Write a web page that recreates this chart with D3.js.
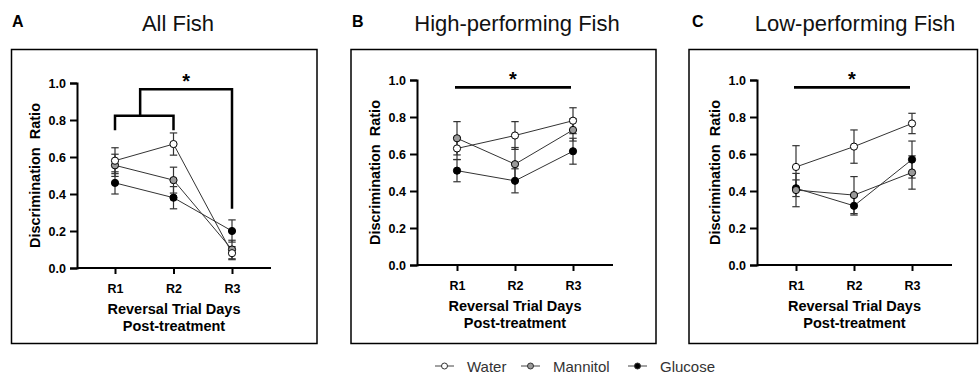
<!DOCTYPE html>
<html>
<head>
<meta charset="utf-8">
<script src="https://cdn.jsdelivr.net/npm/d3@7"></script>
<style>
body { margin: 0; background: #fff; }
svg { display: block; font-family: Arial, "Liberation Sans", sans-serif; }
</style>
</head>
<body>
<div id="chart"></div>
<script>
// categories and ticks
var days = ["R1", "R2", "R3"];
var groups = ["Water", "Mannitol", "Glucose"];
var yTicks = [0, 0.2, 0.4, 0.6, 0.8, 1.0];

// A - All fish (mean, sem)
var allWater = [0.58, 0.67, 0.08];
var allWaterSem = [0.07, 0.06, 0.035];
var allMannitol = [0.555, 0.475, 0.10];
var allMannitolSem = [0.06, 0.07, 0.05];
var allGlucose = [0.46, 0.38, 0.20];
var allGlucoseSem = [0.06, 0.06, 0.06];

// B - High-performing fish
var highWater = [0.63, 0.70, 0.78];
var highWaterSem = [0.06, 0.075, 0.07];
var highMannitol = [0.685, 0.545, 0.73];
var highMannitolSem = [0.09, 0.09, 0.06];
var highGlucose = [0.51, 0.455, 0.615];
var highGlucoseSem = [0.06, 0.065, 0.07];

// C - Low-performing fish
var lowWater = [0.53, 0.64, 0.765];
var lowWaterSem = [0.115, 0.09, 0.055];
var lowMannitol = [0.405, 0.378, 0.50];
var lowMannitolSem = [0.09, 0.10, 0.09];
var lowGlucose = [0.415, 0.32, 0.57];
var lowGlucoseSem = [0.045, 0.05, 0.10];

var fills = { Water: "#ffffff", Mannitol: "#9a9a9a", Glucose: "#000000" };
var drawOrder = ["Glucose", "Mannitol", "Water"];

var width = 979, height = 374;

var svg = d3.select("#chart")
    .append("svg")
    .attr("width", width)
    .attr("height", height);

var panels = [
    { letter: "A", title: "All Fish", left: 11.5, right: 317, letterX: 12, titleX: 178,
      axisX: 77, r1: 115, r3: 232, axisEnd: 271, y0: 268, y1: 83, sig: "bracket",
      series: { Water: [allWater, allWaterSem], Mannitol: [allMannitol, allMannitolSem], Glucose: [allGlucose, allGlucoseSem] } },
    { letter: "B", title: "High-performing Fish", left: 351, right: 656, letterX: 352, titleX: 517,
      axisX: 417, r1: 457, r3: 573, axisEnd: 613, y0: 265, y1: 80, sig: "bar",
      series: { Water: [highWater, highWaterSem], Mannitol: [highMannitol, highMannitolSem], Glucose: [highGlucose, highGlucoseSem] } },
    { letter: "C", title: "Low-performing Fish", left: 689, right: 977.5, letterX: 692, titleX: 855,
      axisX: 757, r1: 796, r3: 912, axisEnd: 952, y0: 265, y1: 80, sig: "bar",
      series: { Water: [lowWater, lowWaterSem], Mannitol: [lowMannitol, lowMannitolSem], Glucose: [lowGlucose, lowGlucoseSem] } }
];

panels.forEach(function (p) {
    var g = svg.append("g");

    // frame
    g.append("rect")
        .attr("x", p.left)
        .attr("y", 49.5)
        .attr("width", p.right - p.left)
        .attr("height", 294)
        .attr("fill", "none")
        .attr("stroke", "#000")
        .attr("stroke-width", 1.5);

    g.append("text")
        .attr("x", p.letterX)
        .attr("y", 27)
        .attr("font-size", 16)
        .attr("font-weight", "bold")
        .text(p.letter);

    g.append("text")
        .attr("x", p.titleX)
        .attr("y", 31)
        .attr("text-anchor", "middle")
        .attr("font-size", 22)
        .attr("fill", "#111")
        .text(p.title);

    var x = d3.scalePoint().domain(days).range([p.r1, p.r3]);
    var y = d3.scaleLinear().domain([0, 1]).range([p.y0, p.y1]);

    // y axis
    var yAxis = g.append("g")
        .attr("transform", "translate(" + p.axisX + ",0)")
        .call(d3.axisLeft(y).tickValues(yTicks).tickFormat(d3.format(".1f")).tickSize(7).tickPadding(4));
    yAxis.select(".domain").attr("stroke-width", 2);
    yAxis.selectAll(".tick line").attr("stroke-width", 2);
    yAxis.selectAll("text").attr("font-size", 12.5).attr("font-weight", "bold").attr("fill", "#000")
        .attr("font-family", "Arial, 'Liberation Sans', sans-serif");

    // x axis
    var xAxis = g.append("g")
        .attr("transform", "translate(0," + p.y0 + ")")
        .call(d3.axisBottom(x).tickSize(6).tickPadding(10));
    xAxis.select(".domain").remove();
    xAxis.append("line")
        .attr("x1", p.axisX)
        .attr("x2", p.axisEnd)
        .attr("stroke", "#000")
        .attr("stroke-width", 2);
    xAxis.selectAll(".tick line").attr("stroke-width", 2);
    xAxis.selectAll("text").attr("font-size", 12.5).attr("font-weight", "bold").attr("fill", "#000")
        .attr("font-family", "Arial, 'Liberation Sans', sans-serif");

    // axis titles
    var midX = (p.axisX + p.axisEnd) / 2;
    g.append("text")
        .attr("x", midX)
        .attr("y", p.y0 + 45.5)
        .attr("text-anchor", "middle")
        .attr("font-size", 14.5)
        .attr("font-weight", "bold")
        .text("Reversal Trial Days");
    g.append("text")
        .attr("x", midX)
        .attr("y", p.y0 + 62.5)
        .attr("text-anchor", "middle")
        .attr("font-size", 14.5)
        .attr("font-weight", "bold")
        .text("Post-treatment");
    g.append("text")
        .attr("transform", "translate(" + (p.axisX - 37) + "," + ((p.y0 + p.y1) / 2) + ") rotate(-90)")
        .attr("text-anchor", "middle")
        .attr("font-size", 14.5)
        .attr("font-weight", "bold")
        .style("white-space", "pre")
        .text("Discrimination  Ratio");

    // significance marks
    if (p.sig == "bracket") {
        var xm = x("R1") + 0.43 * (x("R2") - x("R1"));
        g.append("path")
            .attr("d", "M" + x("R1") + "," + y(0.745) + "V" + y(0.823) + "H" + x("R2") + "V" + y(0.745))
            .attr("fill", "none").attr("stroke", "#000").attr("stroke-width", 2.5);
        g.append("path")
            .attr("d", "M" + xm + "," + y(0.823) + "V" + y(0.966) + "H" + x("R3") + "V" + y(0.32))
            .attr("fill", "none").attr("stroke", "#000").attr("stroke-width", 2.5);
        g.append("text")
            .attr("x", (xm + x("R3")) / 2)
            .attr("y", y(0.966) - 1)
            .attr("text-anchor", "middle")
            .attr("font-size", 20)
            .attr("font-weight", "bold")
            .text("*");
    } else {
        g.append("line")
            .attr("x1", x("R1") - 2)
            .attr("x2", x("R3") - 2)
            .attr("y1", y(0.96))
            .attr("y2", y(0.96))
            .attr("stroke", "#000")
            .attr("stroke-width", 2.7);
        g.append("text")
            .attr("x", (x("R1") + x("R3")) / 2 - 2)
            .attr("y", y(0.96) - 1)
            .attr("text-anchor", "middle")
            .attr("font-size", 20)
            .attr("font-weight", "bold")
            .text("*");
    }

    var line = d3.line()
        .x(function (d, i) { return x(days[i]); })
        .y(function (d) { return y(d); });

    // lines first
    drawOrder.forEach(function (name) {
        g.append("path")
            .datum(p.series[name][0])
            .attr("d", line)
            .attr("fill", "none")
            .attr("stroke", "#333")
            .attr("stroke-width", 1);
    });

    // error bars then markers
    drawOrder.forEach(function (name) {
        var vals = p.series[name][0], sem = p.series[name][1];
        var eb = g.append("g").selectAll("g")
            .data(vals)
            .enter()
            .append("g");
        eb.append("line")
            .attr("x1", function (d, i) { return x(days[i]); })
            .attr("x2", function (d, i) { return x(days[i]); })
            .attr("y1", function (d, i) { return y(d - sem[i]); })
            .attr("y2", function (d, i) { return y(d + sem[i]); })
            .attr("stroke", "#333").attr("stroke-width", 1.2);
        [-1, 1].forEach(function (s) {
            eb.append("line")
                .attr("x1", function (d, i) { return x(days[i]) - 3.7; })
                .attr("x2", function (d, i) { return x(days[i]) + 3.7; })
                .attr("y1", function (d, i) { return y(d + s * sem[i]); })
                .attr("y2", function (d, i) { return y(d + s * sem[i]); })
                .attr("stroke", "#333").attr("stroke-width", 1.2);
        });
    });

    drawOrder.forEach(function (name) {
        g.append("g").selectAll("circle")
            .data(p.series[name][0])
            .enter()
            .append("circle")
            .attr("cx", function (d, i) { return x(days[i]); })
            .attr("cy", function (d) { return y(d); })
            .attr("r", 3.6)
            .attr("fill", fills[name])
            .attr("stroke", "#000")
            .attr("stroke-width", 1);
    });
});

// legend
var legendX = [435, 521, 628];
var legend = svg.append("g").selectAll("g")
    .data(groups)
    .enter()
    .append("g")
    .attr("transform", function (d, i) { return "translate(" + legendX[i] + ",366)"; });

legend.append("line")
    .attr("x1", 0).attr("x2", 19)
    .attr("stroke", "#444").attr("stroke-width", 1);
legend.append("circle")
    .attr("cx", 9.5).attr("r", 3)
    .attr("fill", function (d) { return fills[d]; })
    .attr("stroke", "#333").attr("stroke-width", 1);
legend.append("text")
    .attr("x", 32)
    .attr("y", 5.5)
    .attr("font-size", 15)
    .attr("fill", "#333")
    .text(function (d) { return d; });
</script>
</body>
</html>
